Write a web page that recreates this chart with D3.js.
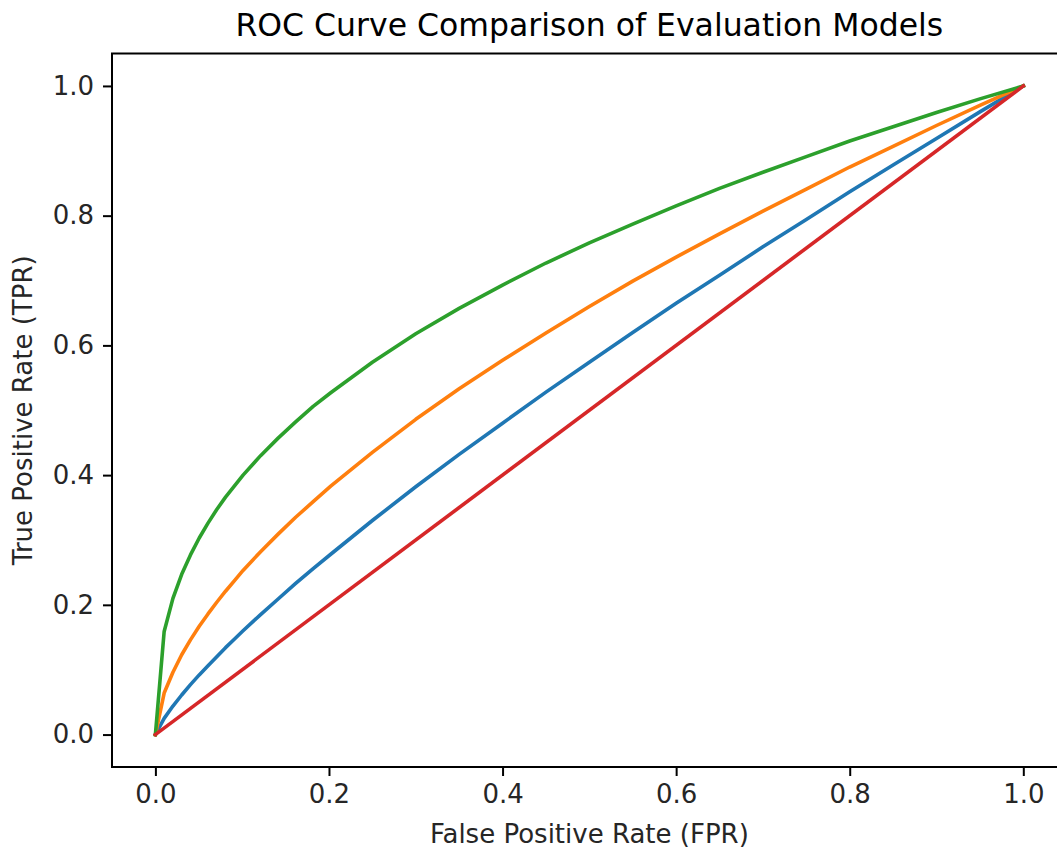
<!DOCTYPE html>
<html>
<head>
<meta charset="utf-8">
<script src="https://cdn.jsdelivr.net/npm/d3@7"></script>
<style>
  body { margin: 0; background: #fff; }
  svg { display: block; font-family: "DejaVu Sans", sans-serif; }
</style>
</head>
<body>
<svg id="chart" width="1057" height="851"></svg>
<script>
// false positive rate samples
const fpr = [0, 0.0101, 0.0202, 0.0303, 0.0404, 0.0505, 0.0606, 0.0707, 0.0808, 0.0909, 0.101,
    0.1212, 0.1414, 0.1616, 0.1818, 0.202, 0.25, 0.3, 0.35, 0.4, 0.45, 0.5, 0.55, 0.6, 0.65,
    0.7, 0.75, 0.8, 0.85, 0.9, 0.95, 1.0]

// true positive rate per model
const tprBlue = [0, 0.025, 0.044, 0.061, 0.077, 0.092, 0.106, 0.120, 0.134, 0.147, 0.160,
    0.185, 0.209, 0.233, 0.256, 0.278, 0.330, 0.382, 0.432, 0.480, 0.528, 0.574, 0.620, 0.665, 0.708,
    0.752, 0.794, 0.837, 0.878, 0.919, 0.960, 1.0]
const tprOrange = [0, 0.064, 0.096, 0.123, 0.146, 0.167, 0.186, 0.204, 0.221, 0.237, 0.253,
    0.282, 0.309, 0.335, 0.359, 0.383, 0.435, 0.486, 0.533, 0.577, 0.619, 0.660, 0.699, 0.736, 0.772,
    0.807, 0.841, 0.875, 0.907, 0.939, 0.970, 1.0]
const tprGreen = [0, 0.159, 0.210, 0.247, 0.277, 0.303, 0.326, 0.347, 0.366, 0.383, 0.400,
    0.430, 0.457, 0.482, 0.506, 0.527, 0.574, 0.618, 0.657, 0.693, 0.727, 0.758, 0.787, 0.815, 0.842,
    0.867, 0.891, 0.915, 0.937, 0.959, 0.980, 1.0]
const tprRed = [0, 1.0]
const fprRed = [0, 1.0]

const seriesColors = ['#1f77b4', '#ff7f0e', '#2ca02c', '#d62728']
const seriesX = [fpr, fpr, fpr, fprRed]
const seriesValues = [tprBlue, tprOrange, tprGreen, tprRed]

const xTicks = [0, 0.2, 0.4, 0.6, 0.8, 1.0]
const yTicks = [0, 0.2, 0.4, 0.6, 0.8, 1.0]

const margin = { left: 112, top: 53.5, right: 1066.7, bottom: 767 }

const svg = d3.select('#chart')

const x = d3.scaleLinear().domain([-0.05, 1.05]).range([margin.left, margin.right])
const y = d3.scaleLinear().domain([-0.05, 1.05]).range([margin.bottom, margin.top])

// lines
const line = d3.line()
    .x((d) => x(d[0]))
    .y((d) => y(d[1]))

const plot = svg.append('g')

seriesValues.forEach((vals, i) => {
    plot.append('path')
        .datum(seriesX[i].map((f, j) => [f, vals[j]]))
        .attr('d', line)
        .attr('fill', 'none')
        .attr('stroke', seriesColors[i])
        .attr('stroke-width', 3.6)
        .attr('stroke-linejoin', 'round')
        .attr('stroke-linecap', 'square')
        .attr('class', 'roc__line')
})

// axes
const xAxis = d3.axisBottom(x)
    .tickValues(xTicks)
    .tickFormat(d3.format('.1f'))
    .tickSize(9)
    .tickPadding(9)

const yAxis = d3.axisLeft(y)
    .tickValues(yTicks)
    .tickFormat(d3.format('.1f'))
    .tickSize(9)
    .tickPadding(9)

const gx = svg.append('g')
    .attr('transform', `translate(0, ${margin.bottom})`)
    .call(xAxis)

const gy = svg.append('g')
    .attr('transform', `translate(${margin.left}, 0)`)
    .call(yAxis)

;[gx, gy].forEach((g) => {
    g.select('.domain').remove()
    g.selectAll('.tick line').attr('stroke', '#000').attr('stroke-width', 2)
    g.selectAll('.tick text')
        .attr('fill', '#262626')
        .style('font-size', '26px')
        .style('font-family', '"DejaVu Sans", sans-serif')
})

// frame
svg.append('rect')
    .attr('x', margin.left)
    .attr('y', margin.top)
    .attr('width', margin.right - margin.left)
    .attr('height', margin.bottom - margin.top)
    .attr('fill', 'none')
    .attr('stroke', '#000')
    .attr('stroke-width', 2)

// labels
svg.append('text')
    .attr('x', (margin.left + margin.right) / 2)
    .attr('y', 843)
    .attr('text-anchor', 'middle')
    .attr('fill', '#262626')
    .style('font-size', '26px')
    .text('False Positive Rate (FPR)')

svg.append('text')
    .attr('transform', `translate(32, ${(margin.top + margin.bottom) / 2}) rotate(-90)`)
    .attr('text-anchor', 'middle')
    .attr('fill', '#262626')
    .style('font-size', '26px')
    .text('True Positive Rate (TPR)')

svg.append('text')
    .attr('x', (margin.left + margin.right) / 2)
    .attr('y', 36)
    .attr('text-anchor', 'middle')
    .attr('fill', '#000')
    .style('font-size', '31.5px')
    .text('ROC Curve Comparison of Evaluation Models')
</script>
</body>
</html>
